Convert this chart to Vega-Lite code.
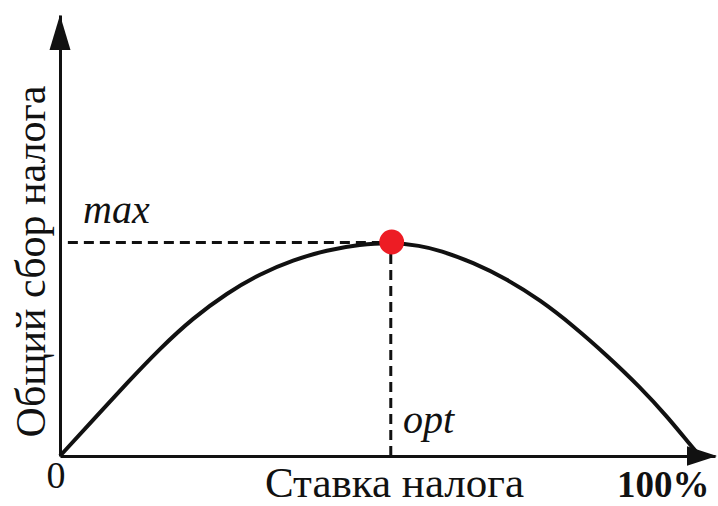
{
  "$schema": "https://vega.github.io/schema/vega-lite/v6.json",
  "width": 655,
  "height": 441,
  "autosize": {"type": "none"},
  "padding": {"left": 60, "top": 15, "right": 3, "bottom": 50},
  "background": "white",
  "config": {"view": {"stroke": null}},
  "datasets": {
    "curve": [
      {"rate": 0, "revenue": 0},
      {"rate": 5.04, "revenue": 8.16},
      {"rate": 10.23, "revenue": 16.55},
      {"rate": 15.27, "revenue": 24.4},
      {"rate": 20.31, "revenue": 31.3},
      {"rate": 25.5, "revenue": 36.96},
      {"rate": 30.53, "revenue": 41.3},
      {"rate": 35.57, "revenue": 44.44},
      {"rate": 40.76, "revenue": 46.71},
      {"rate": 45.8, "revenue": 47.95},
      {"rate": 50.53, "revenue": 48.45},
      {"rate": 55.0, "revenue": 47.7},
      {"rate": 58.02, "revenue": 46.6},
      {"rate": 63.05, "revenue": 43.9},
      {"rate": 68.24, "revenue": 40.1},
      {"rate": 73.28, "revenue": 35.4},
      {"rate": 78.32, "revenue": 29.6},
      {"rate": 83.51, "revenue": 22.8},
      {"rate": 88.55, "revenue": 15.65},
      {"rate": 92.67, "revenue": 9.0},
      {"rate": 96.18, "revenue": 2.6},
      {"rate": 97.7, "revenue": 0}
    ],
    "guides": [
      {"x": 1.2, "x2": 50.6, "y": 48.4, "y2": 48.4},
      {"x": 50.5, "x2": 50.5, "y": 0, "y2": 48.4}
    ],
    "peak": [{"rate": 50.64, "revenue": 48.53}],
    "yarrow": [{"rate": 0, "revenue": 96.03}],
    "xarrow": [{"rate": 98.02, "revenue": 0}],
    "italic": [
      {"label": "max", "rate": 3.51, "revenue": 52.83},
      {"label": "opt", "rate": 52.37, "revenue": 5.22}
    ],
    "zero": [{"label": "0", "rate": -0.61, "revenue": -7.26}],
    "hundred": [{"label": "100%", "rate": 85.04, "revenue": -9.2}]
  },
  "layer": [
    {
      "data": {"name": "curve"},
      "mark": {"type": "line", "interpolate": "basis", "color": "#111", "strokeWidth": 4, "clip": false},
      "encoding": {
        "x": {
          "field": "rate", "type": "quantitative",
          "scale": {"domain": [0, 100], "nice": false, "zero": false},
          "axis": {
            "title": "Ставка налога",
            "domain": true, "domainColor": "#111", "domainWidth": 3,
            "ticks": false, "labels": false, "grid": false,
            "titleFont": "Liberation Serif", "titleFontSize": 43, "titleFontWeight": "normal",
            "titleColor": "#111", "titlePadding": 6, "titleX": 334
          }
        },
        "y": {
          "field": "revenue", "type": "quantitative",
          "scale": {"domain": [0, 100], "nice": false, "zero": false},
          "axis": {
            "title": "Общий сбор налога",
            "domain": true, "domainColor": "#111", "domainWidth": 3,
            "ticks": false, "labels": false, "grid": false,
            "titleFont": "Liberation Serif", "titleFontSize": 42, "titleFontWeight": "normal",
            "titleColor": "#111", "titlePadding": 7, "titleY": 246
          }
        }
      }
    },
    {
      "data": {"name": "guides"},
      "mark": {"type": "rule", "color": "#111", "strokeWidth": 3, "strokeDash": [10, 6]},
      "encoding": {
        "x": {"field": "x", "type": "quantitative"},
        "x2": {"field": "x2"},
        "y": {"field": "y", "type": "quantitative"},
        "y2": {"field": "y2"}
      }
    },
    {
      "data": {"name": "peak"},
      "mark": {"type": "point", "shape": "circle", "filled": true, "color": "#ED1C24", "opacity": 1, "size": 616},
      "encoding": {
        "x": {"field": "rate", "type": "quantitative"},
        "y": {"field": "revenue", "type": "quantitative"}
      }
    },
    {
      "data": {"name": "yarrow"},
      "mark": {"type": "point", "shape": "M0,-1L0.6,1L-0.6,1Z", "filled": true, "color": "#111", "opacity": 1, "size": 1225, "clip": false},
      "encoding": {
        "x": {"field": "rate", "type": "quantitative"},
        "y": {"field": "revenue", "type": "quantitative"}
      }
    },
    {
      "data": {"name": "xarrow"},
      "mark": {"type": "point", "shape": "M1,0L-1,-0.65L-1,0.65Z", "filled": true, "color": "#111", "opacity": 1, "size": 900, "clip": false},
      "encoding": {
        "x": {"field": "rate", "type": "quantitative"},
        "y": {"field": "revenue", "type": "quantitative"}
      }
    },
    {
      "data": {"name": "italic"},
      "mark": {"type": "text", "font": "Liberation Serif", "fontStyle": "italic", "fontSize": 40, "align": "left", "baseline": "alphabetic", "color": "#111"},
      "encoding": {
        "x": {"field": "rate", "type": "quantitative"},
        "y": {"field": "revenue", "type": "quantitative"},
        "text": {"field": "label"}
      }
    },
    {
      "data": {"name": "zero"},
      "mark": {"type": "text", "font": "Liberation Serif", "fontSize": 38, "align": "center", "baseline": "alphabetic", "color": "#111", "clip": false},
      "encoding": {
        "x": {"field": "rate", "type": "quantitative"},
        "y": {"field": "revenue", "type": "quantitative"},
        "text": {"field": "label"}
      }
    },
    {
      "data": {"name": "hundred"},
      "mark": {"type": "text", "font": "Liberation Serif", "fontWeight": "bold", "fontSize": 37, "align": "left", "baseline": "alphabetic", "color": "#111", "clip": false},
      "encoding": {
        "x": {"field": "rate", "type": "quantitative"},
        "y": {"field": "revenue", "type": "quantitative"},
        "text": {"field": "label"}
      }
    }
  ]
}
